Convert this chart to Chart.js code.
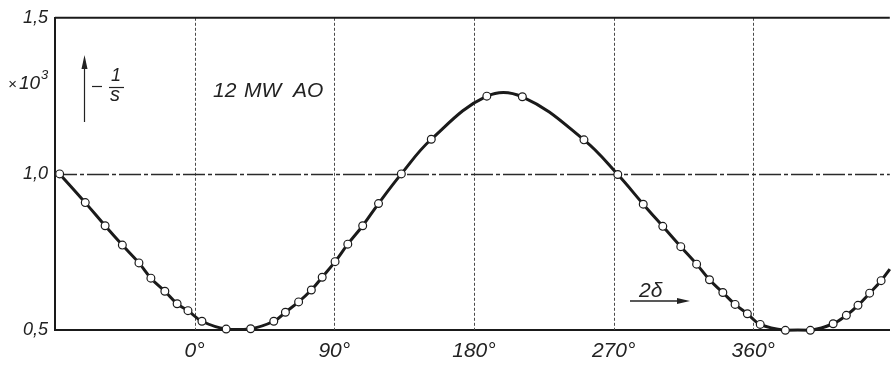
<!DOCTYPE html>
<html>
<head>
<meta charset="utf-8">
<script src="https://cdn.jsdelivr.net/npm/chart.js@4.4.0/dist/chart.umd.min.js"></script>
<style>
  html, body { margin: 0; padding: 0; background: #fff; }
  #wrap { width: 895px; height: 367px; }
</style>
</head>
<body>
<div id="wrap"><canvas id="slipChart" width="895" height="367"></canvas></div>
<script>
// load angle 2δ in degrees
const angleDeg = [
    -87, -70.5, -57.7, -46.6, -35.9, -28.2, -19.2, -11.3, -4.3, 4.7,
    20.3, 36.1, 51.0, 58.5, 67.0, 75.2, 82.2, 90.5, 98.7, 108.3,
    118.5, 133.2, 152.5, 188.3, 211.2, 250.9, 272.7, 289.1, 301.7, 313.3,
    323.5, 331.8, 340.4, 348.3, 356.2, 364.5, 380.7, 396.8, 411.5, 420.0,
    427.5, 435.0, 442.4, 448.0
];
// -1/s  (x10^3); last value is where the curve leaves the frame (no marker)
const invSlip = [
    1.000, 0.908, 0.834, 0.772, 0.715, 0.666, 0.624, 0.584, 0.562, 0.528,
    0.503, 0.504, 0.528, 0.557, 0.590, 0.628, 0.669, 0.719, 0.775, 0.834,
    0.905, 1.000, 1.111, 1.249, 1.247, 1.109, 0.998, 0.903, 0.832, 0.767,
    0.711, 0.661, 0.620, 0.582, 0.552, 0.518, 0.499, 0.499, 0.520, 0.547,
    0.579, 0.618, 0.658, 0.695
];
const angleTicks = [0, 90, 180, 270, 360];
const valueTicks = [0.5, 1.0, 1.5];

const INK = '#1a1a1a';
const FONT = '"Liberation Sans", Arial, sans-serif';

function italic(size) {
    return 'italic ' + size + 'px ' + FONT;
}

// grid + frame, drawn by hand to get the drafting look
const gridPlugin = {
    id: 'draftGrid',
    beforeDatasetsDraw(chart) {
        const {ctx, chartArea: a, scales: {x, y}} = chart;
        ctx.save();

        // vertical dotted lines at the degree ticks
        ctx.strokeStyle = '#4a4a4a';
        ctx.lineWidth = 1;
        ctx.setLineDash([3, 2]);
        angleTicks.forEach(v => {
            const px = Math.round(x.getPixelForValue(v)) + 0.5;
            ctx.beginPath();
            ctx.moveTo(px, a.top);
            ctx.lineTo(px, a.bottom);
            ctx.stroke();
        });

        // dash-dot line at 1,0
        ctx.strokeStyle = '#2a2a2a';
        ctx.lineWidth = 1.3;
        ctx.setLineDash([22, 3, 4, 3]);
        const y1 = Math.round(y.getPixelForValue(1.0)) + 0.5;
        ctx.beginPath();
        ctx.moveTo(a.left, y1);
        ctx.lineTo(a.right, y1);
        ctx.stroke();

        // top frame line
        ctx.setLineDash([]);
        ctx.strokeStyle = INK;
        ctx.lineWidth = 2;
        ctx.beginPath();
        ctx.moveTo(a.left, a.top);
        ctx.lineTo(a.right, a.top);
        ctx.stroke();
        ctx.restore();
    },
    afterDraw(chart) {
        const ctx = chart.ctx;
        ctx.save();
        ctx.fillStyle = '#222';
        ctx.strokeStyle = '#222';
        ctx.textBaseline = 'alphabetic';
        ctx.textAlign = 'left';

        // x10^3 next to the y axis
        ctx.font = italic(15);
        ctx.fillText('\u00d7', 8, 89);
        ctx.font = italic(19);
        ctx.fillText('10', 19, 89);
        ctx.font = italic(13);
        ctx.fillText('3', 41, 79);

        // arrow with -1/s
        ctx.lineWidth = 1.2;
        ctx.beginPath();
        ctx.moveTo(84.5, 122);
        ctx.lineTo(84.5, 64);
        ctx.stroke();
        ctx.beginPath();
        ctx.moveTo(84.5, 55);
        ctx.lineTo(81.5, 69);
        ctx.lineTo(87.5, 69);
        ctx.closePath();
        ctx.fill();
        ctx.beginPath();
        ctx.moveTo(92, 86.5);
        ctx.lineTo(102, 86.5);
        ctx.stroke();
        ctx.font = italic(18);
        ctx.textAlign = 'center';
        ctx.fillText('1', 116, 81);
        ctx.beginPath();
        ctx.moveTo(109, 87.5);
        ctx.lineTo(124, 87.5);
        ctx.stroke();
        ctx.font = italic(20);
        ctx.fillText('s', 115, 101);

        // machine label
        ctx.textAlign = 'left';
        ctx.font = italic(21);
        ctx.fillText('12', 213, 97);
        ctx.fillText('MW', 244, 97);
        ctx.fillText('AO', 293, 97);

        // 2δ with arrow
        ctx.fillText('2\u03b4', 639, 297);
        ctx.lineWidth = 1.3;
        ctx.beginPath();
        ctx.moveTo(630, 301);
        ctx.lineTo(680, 301);
        ctx.stroke();
        ctx.beginPath();
        ctx.moveTo(690, 301);
        ctx.lineTo(677, 298);
        ctx.lineTo(677, 304);
        ctx.closePath();
        ctx.fill();
        ctx.restore();
    }
};

new Chart(document.getElementById('slipChart'), {
    type: 'scatter',
    data: {
        datasets: [{
            data: angleDeg.map((a, i) => ({x: a, y: invSlip[i]})),
            showLine: true,
            tension: 0.4,
            borderColor: INK,
            borderWidth: 3,
            pointRadius: ctx => ctx.dataIndex === angleDeg.length - 1 ? 0 : 3.9,
            pointBackgroundColor: '#fff',
            pointBorderColor: INK,
            pointBorderWidth: 1.2,
            clip: false
        }]
    },
    options: {
        responsive: false,
        animation: false,
        events: [],
        layout: {padding: {top: 16, right: 0, bottom: 0, left: 0}},
        plugins: {
            legend: {display: false},
            tooltip: {enabled: false}
        },
        scales: {
            x: {
                type: 'linear',
                min: -90,
                max: 448,
                afterBuildTicks: scale => {
                    scale.ticks = angleTicks.map(v => ({value: v}));
                },
                afterFit: scale => { scale.height = 37; },
                grid: {display: false, drawTicks: false},
                border: {display: true, color: INK, width: 2},
                ticks: {
                    padding: 9,
                    color: '#222',
                    font: {family: FONT, style: 'italic', size: 21},
                    callback: v => v + '\u00b0'
                }
            },
            y: {
                min: 0.5,
                max: 1.5,
                afterBuildTicks: scale => {
                    scale.ticks = valueTicks.map(v => ({value: v}));
                },
                afterFit: scale => { scale.width = 55; },
                grid: {display: false, drawTicks: false},
                border: {display: true, color: INK, width: 2},
                ticks: {
                    padding: 7,
                    color: '#222',
                    font: {family: FONT, style: 'italic', size: 18},
                    callback: v => v.toFixed(1).replace('.', ',')
                }
            }
        }
    },
    plugins: [gridPlugin]
});
</script>
</body>
</html>
